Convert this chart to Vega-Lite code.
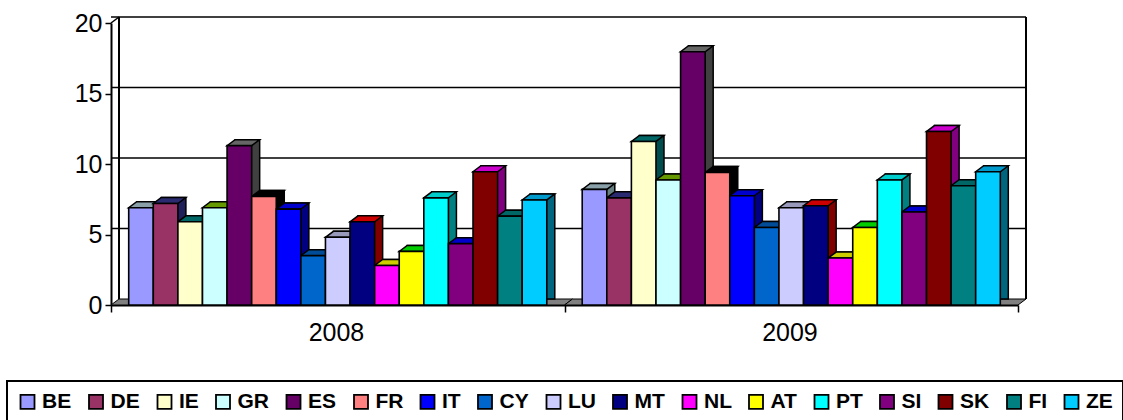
{"$schema":"https://vega.github.io/schema/vega-lite/v6.json","width":907,"height":282,"autosize":"none","padding":{"left":111,"top":23,"right":105,"bottom":115},"background":"white","config":{"view":{"stroke":null},"font":"Liberation Sans"},
"datasets":{"rates":[
{"year":"2008","country":"BE","value":6.9},{"year":"2008","country":"DE","value":7.2},{"year":"2008","country":"IE","value":5.9},{"year":"2008","country":"GR","value":6.9},{"year":"2008","country":"ES","value":11.3},{"year":"2008","country":"FR","value":7.7},{"year":"2008","country":"IT","value":6.8},{"year":"2008","country":"CY","value":3.5},{"year":"2008","country":"LU","value":4.8},{"year":"2008","country":"MT","value":5.9},{"year":"2008","country":"NL","value":2.8},{"year":"2008","country":"AT","value":3.8},{"year":"2008","country":"PT","value":7.6},{"year":"2008","country":"SI","value":4.35},{"year":"2008","country":"SK","value":9.45},{"year":"2008","country":"FI","value":6.3},{"year":"2008","country":"ZE","value":7.45},
{"year":"2009","country":"BE","value":8.2},{"year":"2009","country":"DE","value":7.6},{"year":"2009","country":"IE","value":11.6},{"year":"2009","country":"GR","value":8.87},{"year":"2009","country":"ES","value":17.96},{"year":"2009","country":"FR","value":9.4},{"year":"2009","country":"IT","value":7.75},{"year":"2009","country":"CY","value":5.5},{"year":"2009","country":"LU","value":6.9},{"year":"2009","country":"MT","value":7.04},{"year":"2009","country":"NL","value":3.33},{"year":"2009","country":"AT","value":5.5},{"year":"2009","country":"PT","value":8.87},{"year":"2009","country":"SI","value":6.6},{"year":"2009","country":"SK","value":12.3},{"year":"2009","country":"FI","value":8.46},{"year":"2009","country":"ZE","value":9.45}],
"levels":[{"level":5},{"level":10},{"level":15},{"level":20}],
"years":[{"year":"2008","lo":0,"hi":20},{"year":"2009","lo":0,"hi":20}],
"first":[{"year":"2008","lo":0,"hi":20}],"last":[{"year":"2009","lo":0,"hi":20}]},
"layer":[
{"data":{"name":"levels"},"mark":{"type":"rule","color":"#000","strokeWidth":1.5,"xOffset":8,"x2Offset":8,"yOffset":-6},"encoding":{"y":{"field":"level","type":"quantitative","scale":{"domain":[0,20],"nice":false},"axis":{"values":[0,5,10,15,20],"title":null,"grid":false,"domainColor":"#000","domainWidth":2,"tickColor":"#000","tickWidth":1.5,"tickSize":6,"labelFontSize":25,"labelColor":"#000","labelPadding":3}}}},
{"data":{"name":"first"},"mark":{"type":"rule","color":"#000","strokeWidth":2,"xOffset":8,"yOffset":-6,"y2Offset":-6},"encoding":{"x":{"field":"year","type":"nominal","bandPosition":0},"y":{"field":"lo","type":"quantitative"},"y2":{"field":"hi"}}},
{"data":{"name":"last"},"mark":{"type":"rule","color":"#000","strokeWidth":2,"xOffset":8,"yOffset":-6,"y2Offset":-6},"encoding":{"x":{"field":"year","type":"nominal","bandPosition":1},"y":{"field":"lo","type":"quantitative"},"y2":{"field":"hi"}}},
{"data":{"name":"first"},"mark":{"type":"point","shape":"M0,0L8,-6","size":4,"filled":false,"stroke":"#000","strokeWidth":1.5,"opacity":1},"encoding":{"x":{"field":"year","type":"nominal","bandPosition":0},"y":{"field":"hi","type":"quantitative"}}},
{"data":{"name":"years"},"mark":{"type":"point","shape":"M-226.75,0L226.75,0L234.75,-6L-218.75,-6Z","size":4,"filled":true,"fill":"#808080","stroke":"#000","strokeWidth":1,"opacity":1},"encoding":{"x":{"field":"year","type":"nominal"},"y":{"field":"lo","type":"quantitative"}}},
{"data":{"name":"rates"},"mark":{"type":"bar","stroke":"#000","strokeWidth":1.5,"yOffset":-6,"y2Offset":-6},"encoding":{"x":{"field":"year","type":"nominal"},"xOffset":{"field":"country","type":"nominal","sort":null,"scale":{"domain":["BE","DE","IE","GR","ES","FR","IT","CY","LU","MT","NL","AT","PT","SI","SK","FI","ZE"],"paddingInner":0,"paddingOuter":0.72,"align":0.726}},"y":{"field":"value","type":"quantitative"},"color":{"field":"country","type":"nominal","sort":null,"legend":null,"scale":{"domain":["BE","DE","IE","GR","ES","FR","IT","CY","LU","MT","NL","AT","PT","SI","SK","FI","ZE"],"range":["#667f80","#1f1f5c","#004d4d","#4d7300","#404040","#000000","#000080","#004080","#777799","#800000","#808000","#008000","#008080","#000080","#800080","#004d4d","#006680"]}}}},
{"data":{"name":"rates"},"mark":{"type":"point","shape":"M-12.3,0L12.3,0L20.3,-6L-4.3,-6Z","size":4,"filled":true,"stroke":"#000","strokeWidth":1.5,"opacity":1},"encoding":{"x":{"field":"year","type":"nominal"},"xOffset":{"field":"country","type":"nominal","sort":null,"scale":{"type":"band","domain":["BE","DE","IE","GR","ES","FR","IT","CY","LU","MT","NL","AT","PT","SI","SK","FI","ZE"],"paddingInner":0,"paddingOuter":0.72}},"y":{"field":"value","type":"quantitative"},"color":{"field":"country","type":"nominal","sort":null,"legend":null,"scale":{"domain":["BE","DE","IE","GR","ES","FR","IT","CY","LU","MT","NL","AT","PT","SI","SK","FI","ZE"],"range":["#8aa0a8","#2a2a70","#006666","#669900","#666666","#000000","#0000cc","#004c99","#9999bb","#cc0000","#cccc00","#00cc00","#00cccc","#0000cc","#cc00cc","#006666","#0099cc"]}}}},
{"data":{"name":"rates"},"mark":{"type":"bar","stroke":"#000","strokeWidth":1.6},"encoding":{"x":{"field":"year","type":"nominal","title":null,"scale":{"paddingInner":0,"paddingOuter":0},"axis":{"labelAngle":0,"tickBand":"extent","tickColor":"#000","tickWidth":1.5,"tickSize":7,"domainColor":"#000","domainWidth":2,"labelFontSize":25,"labelColor":"#000","labelPadding":20,"labelOffset":26}},"xOffset":{"field":"country","type":"nominal","sort":null,"scale":{"domain":["BE","DE","IE","GR","ES","FR","IT","CY","LU","MT","NL","AT","PT","SI","SK","FI","ZE"],"paddingInner":0,"paddingOuter":0.72}},"y":{"field":"value","type":"quantitative"},"color":{"field":"country","type":"nominal","sort":null,"scale":{"domain":["BE","DE","IE","GR","ES","FR","IT","CY","LU","MT","NL","AT","PT","SI","SK","FI","ZE"],"range":["#9999FF","#993366","#FFFFCC","#CCFFFF","#660066","#FF8080","#0000FF","#0066CC","#CCCCFF","#000080","#FF00FF","#FFFF00","#00FFFF","#800080","#800000","#008080","#00CCFF"]},"legend":{"title":null,"orient":"none","legendX":-104,"legendY":358,"direction":"horizontal","columns":17,"columnPadding":12.5,"symbolType":"square","symbolSize":196,"symbolStrokeColor":"#000","symbolStrokeWidth":1.8,"labelFontSize":21,"labelFontWeight":"bold","labelColor":"#000","labelOffset":4,"strokeColor":"#000","fillColor":"white","padding":10,"encode":{"legend":{"update":{"strokeWidth":{"value":2}}}}}}}}
],
"resolve":{"scale":{"color":"independent","xOffset":"independent"}}}
